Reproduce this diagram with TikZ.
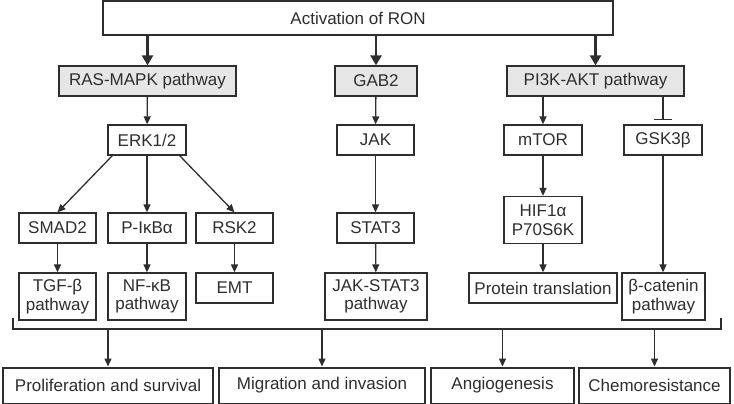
\documentclass[tikz,border=0pt]{standalone}
\usepackage{fontspec}
\setmainfont{Liberation Sans}
\usetikzlibrary{arrows.meta}
\usetikzlibrary{positioning}

\definecolor{ink}{HTML}{2E2E2E}
\definecolor{shade}{HTML}{E6E6E6}

\begin{document}
\begin{tikzpicture}[
		x=1pt, y=-1pt,
		every node/.style={text=ink, font={\fontsize{17}{18.5}\selectfont}},
		box/.style={
			shape=rectangle,
			draw=ink,
			line width=1.3pt,
			fill=white,
			align=center,
			inner sep=0pt,
			minimum height=30pt
		},
		greybox/.style={box, fill=shade},
		topbox/.style={box, line width=2.8pt, minimum height=34pt},
		outbox/.style={box, line width=2pt, minimum height=36pt},
		arr/.style={draw=ink, line width=1.3pt, -{Triangle[length=8pt, width=7pt]}},
		bigarr/.style={draw=ink, line width=2.8pt, -{Triangle[length=10pt, width=11pt]}},
		blocker/.style={draw=ink, line width=1.3pt, -{Bar[width=18pt]}}
		]
		
		\useasboundingbox (0,0) rectangle (734,404);
		
		\node[topbox, minimum width=510pt] (ron) at (358,18) {Activation of RON};
		
		\node[greybox, minimum width=177pt] (ras) at (147.5,81) {RAS-MAPK pathway};
		\node[greybox, minimum width=82pt] (gab) at (376,81) {GAB2};
		\node[greybox, minimum width=177pt] (pik) at (595.5,81) {PI3K-AKT pathway};
		
		\node[box, minimum width=78pt] (erk) at (147,140) {ERK1/2};
		\node[box, minimum width=77pt] (jak) at (375.5,140) {JAK};
		\node[box, minimum width=78pt] (mtor) at (543,140) {mTOR};
		\node[box, minimum width=78pt] (gsk) at (663,140) {GSK3β};
		
		\node[box, minimum width=77pt] (smad) at (57.5,228) {SMAD2};
		\node[box, minimum width=78pt] (pikb) at (147,228) {P-IκBα};
		\node[box, minimum width=77pt] (rsk) at (234.5,228) {RSK2};
		\node[box, minimum width=77pt] (stat) at (375.5,228) {STAT3};
		\node[box, minimum width=78pt, minimum height=47pt] (hif) at (543,220) {HIF1α\\P70S6K};
		
		\node[box, minimum width=77pt, minimum height=47pt] (tgf) at (57.5,296.5) {TGF-β\\pathway};
		\node[box, minimum width=78pt, minimum height=47pt] (nfkb) at (147,296.5) {NF-κB\\pathway};
		\node[box, minimum width=77pt] (emt) at (234.5,288) {EMT};
		\node[box, minimum width=102pt, minimum height=47pt] (jaks) at (376,296.5) {JAK-STAT3\\pathway};
		\node[box, minimum width=148pt] (prot) at (543,288) {Protein translation};
		\node[box, minimum width=83pt, minimum height=47pt] (bcat) at (663.5,296.5) {β-catenin\\pathway};
		
		\node[outbox, minimum width=210pt] (prol) at (108,385.5) {Proliferation and survival};
		\node[outbox, minimum width=206pt] (migr) at (322,385.5) {Migration and invasion};
		\node[outbox, minimum width=143pt] (angi) at (502.5,385.5) {Angiogenesis};
		\node[outbox, minimum width=151pt] (chem) at (654.5,385.5) {Chemoresistance};
		
		\coordinate (bl) at (13,318);
		\coordinate (br) at (721,318);
		\coordinate (brk) at (13,329);
		
		%%%%%%%%%%
		
		\draw[bigarr] (ras.north |- ron.south) -- (ras.north);
		\draw[bigarr] (gab.north |- ron.south) -- (gab.north);
		\draw[bigarr] (pik.north |- ron.south) -- (pik.north);
		
		\draw[arr] (ras) -- (erk);
		\draw[arr] (gab) -- (jak);
		\draw[arr] (mtor.north |- pik.south) -- (mtor.north);
		\draw[blocker] (gsk.north |- pik.south) -- ([yshift=4pt]gsk.north);
		
		\draw[arr] ([xshift=5pt]erk.south west) -- (smad.north);
		\draw[arr] (erk) -- (pikb);
		\draw[arr] ([xshift=-7pt]erk.south east) -- (rsk.north);
		\draw[arr] (jak) -- (stat);
		\draw[arr] (mtor) -- (hif);
		\draw[arr] (gsk.south) -- (bcat.north -| gsk.south);
		
		\draw[arr] (smad) -- (tgf);
		\draw[arr] (pikb) -- (nfkb);
		\draw[arr] (rsk) -- (emt);
		\draw[arr] (stat) -- (jaks);
		\draw[arr] (hif) -- (prot);
		
		\draw[draw=ink, line width=1.3pt] (bl) |- (brk -| br) -- (br);
		
		\draw[arr] (prol.north |- brk) -- (prol.north);
		\draw[arr] (migr.north |- brk) -- (migr.north);
		\draw[arr] (angi.north |- brk) -- (angi.north);
		\draw[arr] (chem.north |- brk) -- (chem.north);
		
	\end{tikzpicture}
\end{document}
